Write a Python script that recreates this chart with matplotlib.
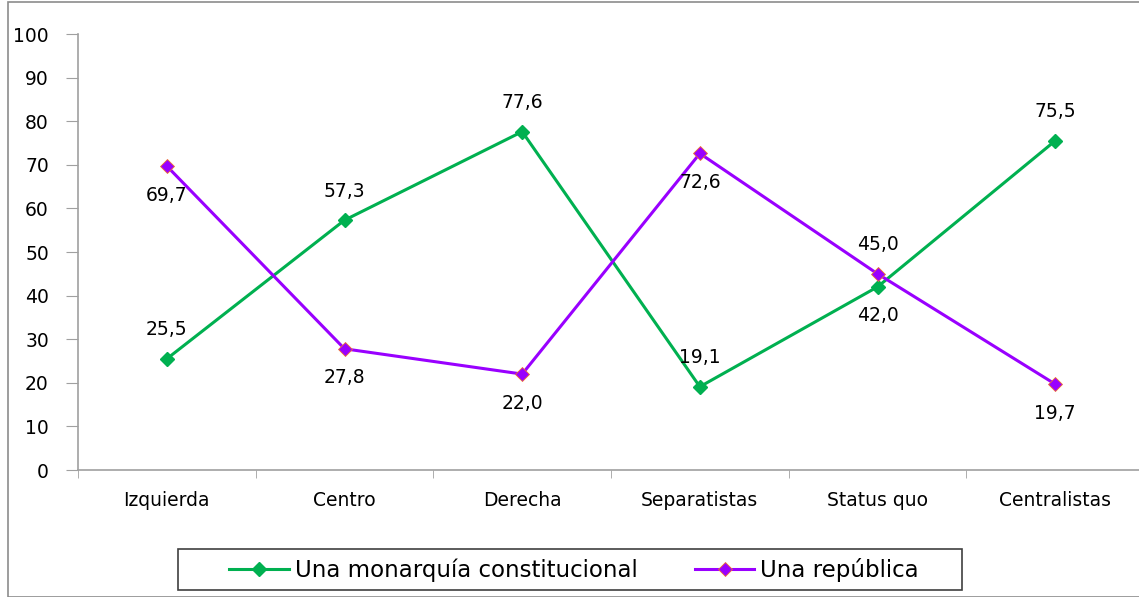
import matplotlib
matplotlib.use("Agg")
import matplotlib.pyplot as plt
from matplotlib.patches import Rectangle

categories = ["Izquierda", "Centro", "Derecha", "Separatistas", "Status quo", "Centralistas"]
monarquia = [25.5, 57.3, 77.6, 19.1, 42.0, 75.5]
republica = [69.7, 27.8, 22.0, 72.6, 45.0, 19.7]
# label above (+1) or below (-1) each point
monarquia_pos = [1, 1, 1, 1, -1, 1]
republica_pos = [-1, -1, -1, -1, 1, -1]

green = "#00B050"
purple = "#9900FF"

fig = plt.figure(figsize=(11.39, 5.97), dpi=100)
W, H = 1139, 597
# outer chart frame
fig.patches.append(Rectangle((8 / W, 0), 1.0, 595 / H, transform=fig.transFigure,
                             fill=False, edgecolor="#8c8c8c", linewidth=1.2))

ax = fig.add_axes([78 / W, 127 / H, 1066 / W, 436 / H])
x = list(range(len(categories)))

ax.plot(x, monarquia, color=green, linewidth=2.2, marker="D", markersize=7,
        markerfacecolor=green, markeredgecolor=green, label="Una monarquía constitucional")
ax.plot(x, republica, color=purple, linewidth=2.2, marker="D", markersize=7,
        markerfacecolor=purple, markeredgecolor="#f07030", markeredgewidth=0.6,
        label="Una república")

for vals, pos in ((monarquia, monarquia_pos), (republica, republica_pos)):
    for i, (v, p) in enumerate(zip(vals, pos)):
        ax.annotate(f"{v:.1f}".replace(".", ","), (i, v), textcoords="offset pixels",
                    xytext=(0, 29 * p), ha="center", va="center", fontsize=13.5)

ax.set_xlim(-0.5, 5.5)
ax.set_ylim(0, 100)
ax.set_yticks(range(0, 101, 10))
ax.set_xticks(x)
ax.set_xticklabels(categories, fontsize=13.5)
ax.set_xticks([i + 0.5 for i in range(-1, 6)], minor=True)
ax.tick_params(axis="x", which="major", length=0, pad=15)
ax.tick_params(axis="x", which="minor", length=6, color="#a0a0a0", direction="out")
ax.tick_params(axis="y", length=9, color="#a0a0a0", labelsize=13.5, pad=12)
for s in ("top", "right"):
    ax.spines[s].set_visible(False)
for s in ("left", "bottom"):
    ax.spines[s].set_color("#a0a0a0")
    ax.spines[s].set_linewidth(1.2)

leg = fig.legend(loc="center", bbox_to_anchor=(574 / W, 1 - 570 / H), ncol=2,
                 fontsize=16.5, frameon=False, handlelength=2.6, columnspacing=2.5,
                 handletextpad=0.25)
# legend box drawn separately so it can be wider than the entries
fig.patches.append(Rectangle((178 / W, 7 / H), 784 / W, 41 / H, transform=fig.transFigure,
                             fill=False, edgecolor="#404040", linewidth=1.2))

fig.savefig("out.png", dpi=100)
